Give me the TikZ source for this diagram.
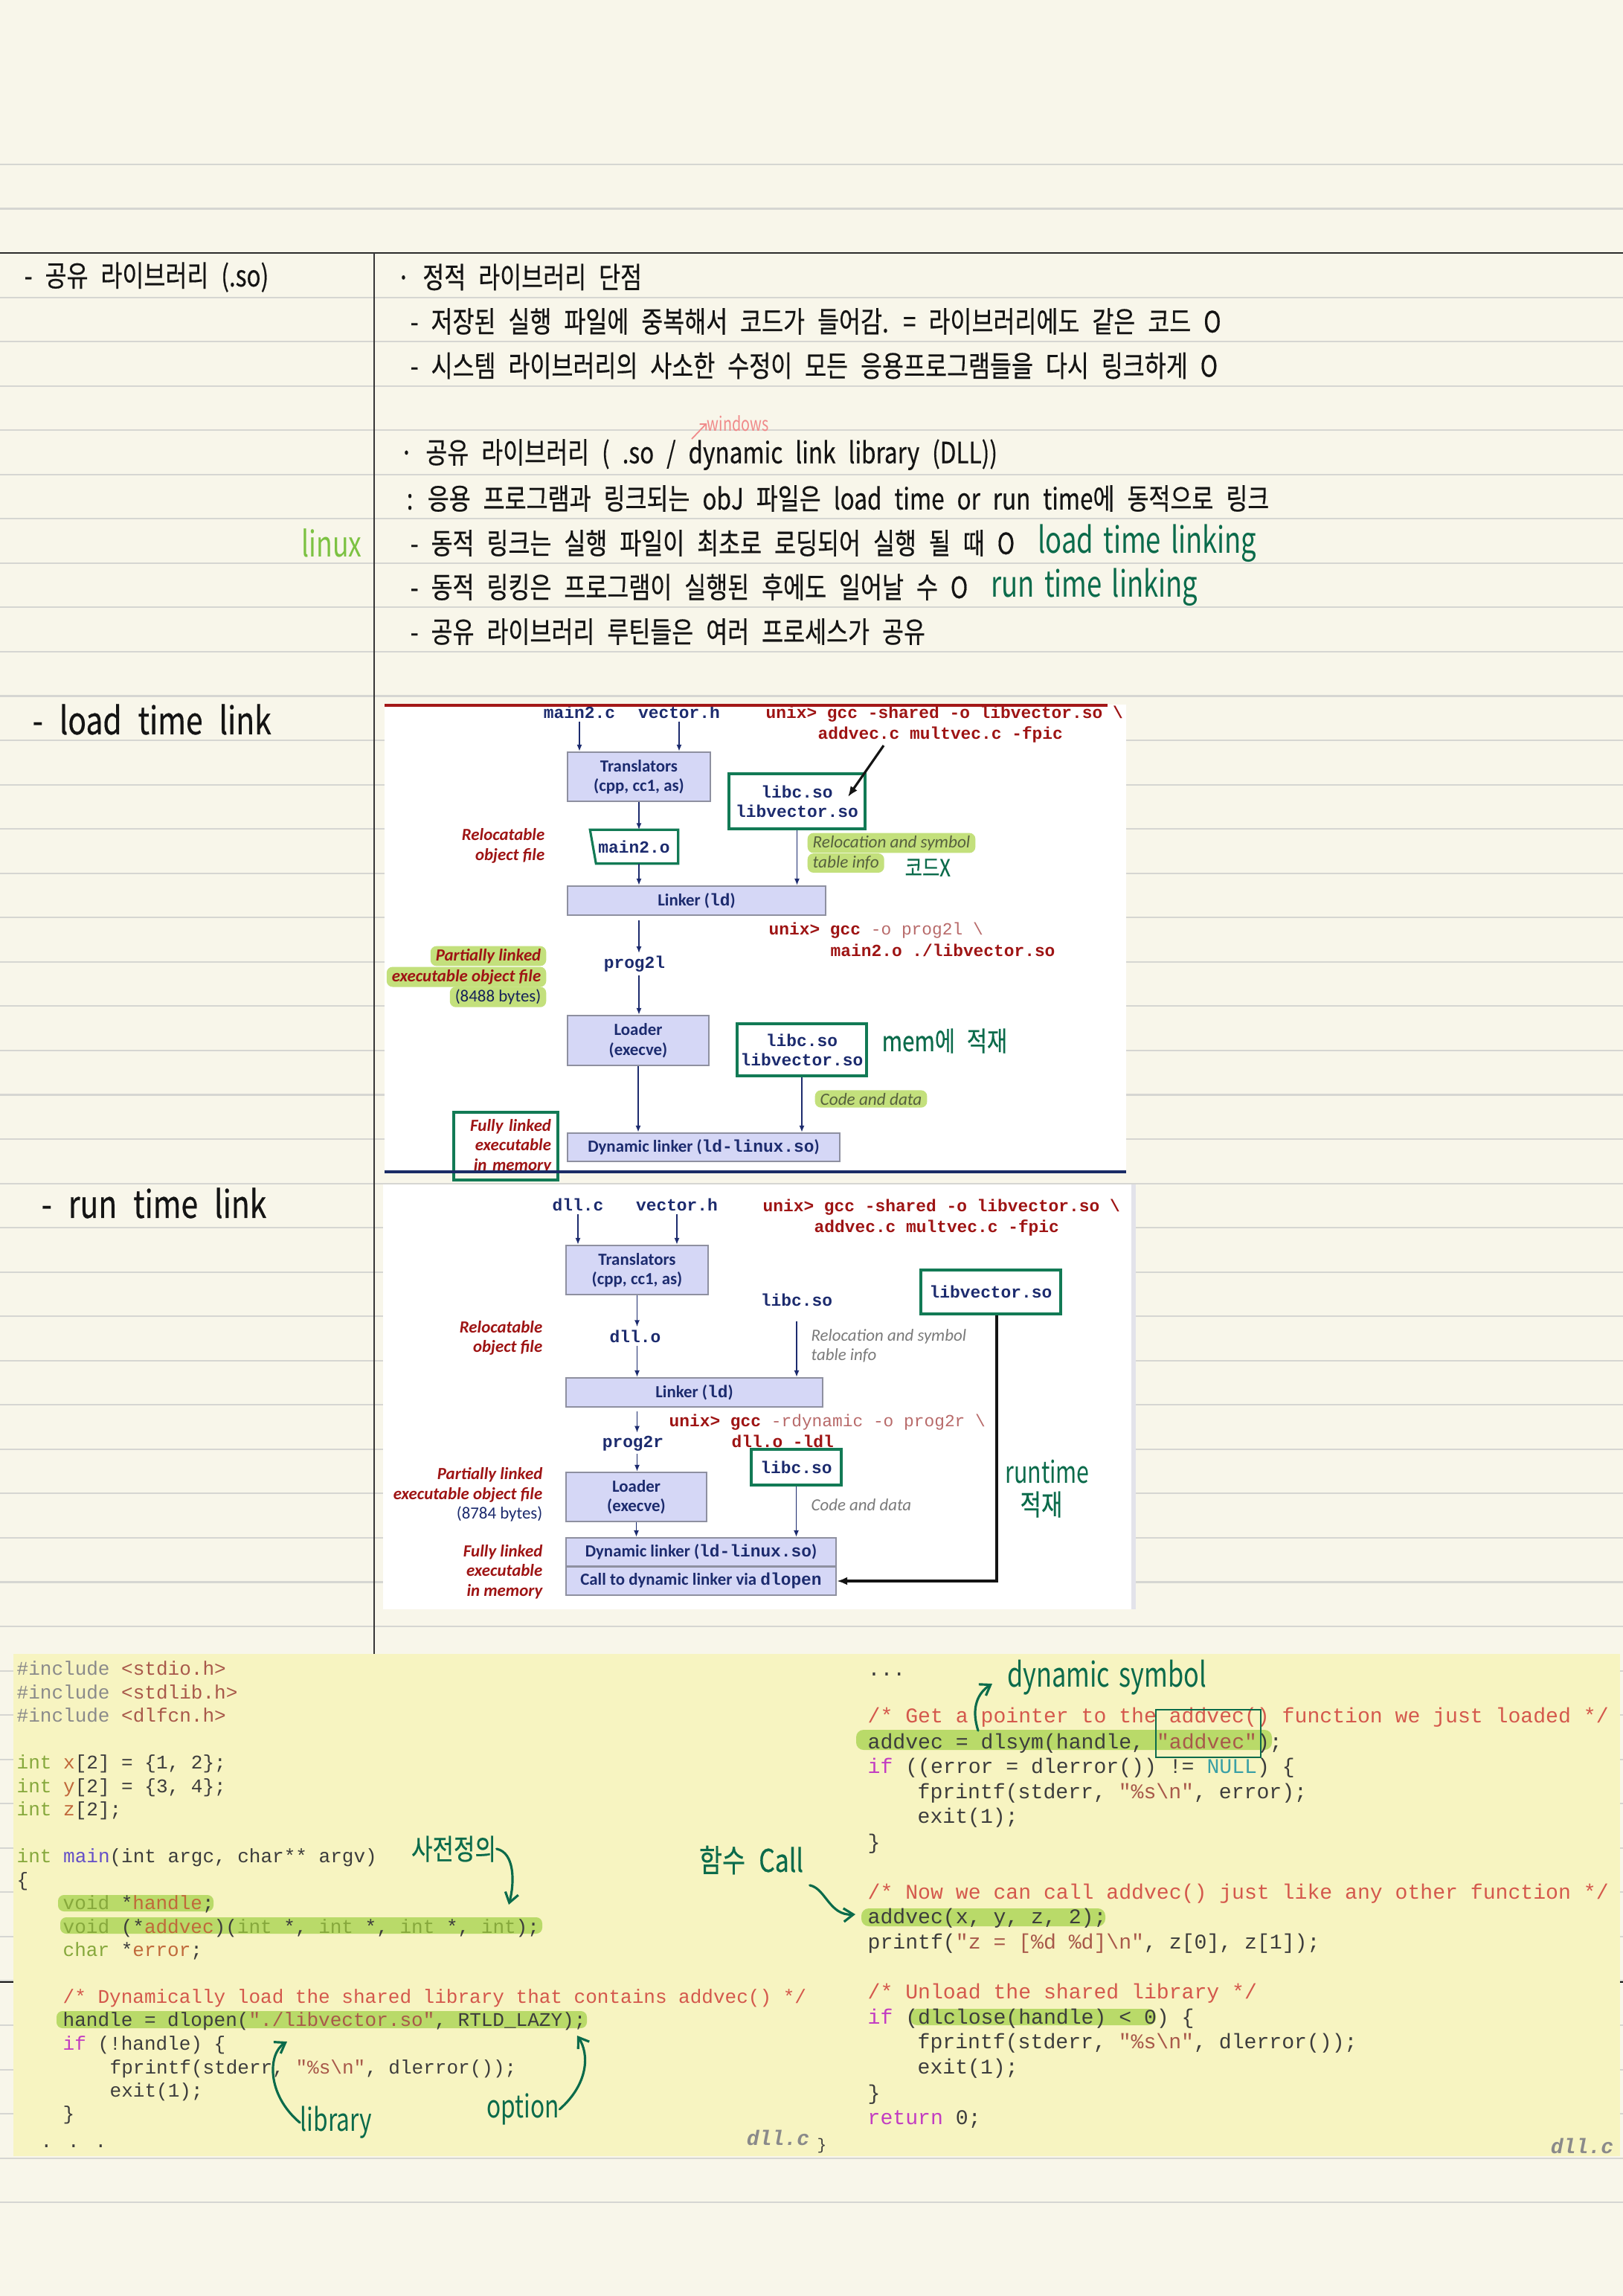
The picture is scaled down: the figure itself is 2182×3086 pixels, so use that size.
\documentclass[tikz,border=0pt]{standalone}
\usepackage{fontspec}
\usetikzlibrary{arrows.meta,positioning}
\setmonofont{Liberation Mono}
\newfontfamily\handfont[FakeStretch=0.8,WordSpace=2.4,FakeBold=0.4]{Noto Sans CJK KR}
\newfontfamily\handlat[FakeStretch=0.75,WordSpace=1.6]{Noto Sans CJK KR}
\newfontfamily\diagsf{Carlito}
\newfontfamily\diagtt{Liberation Mono}

\definecolor{paper}{HTML}{F8F6EA}
\definecolor{ruleC}{HTML}{D6D6D2}
\definecolor{inkC}{HTML}{141414}
\definecolor{penG}{HTML}{0B6B4B}
\definecolor{linuxG}{HTML}{7CC242}
\definecolor{pinkC}{HTML}{F08A8A}
\definecolor{navyC}{HTML}{1C2B6E}
\definecolor{boxFill}{HTML}{D5D7F6}
\definecolor{boxLine}{HTML}{8E90A0}
\definecolor{redC}{HTML}{9E1414}
\definecolor{redL}{HTML}{B86A6A}
\definecolor{gboxC}{HTML}{127A55}
\definecolor{hlG}{HTML}{C3E07C}
\definecolor{noteC}{HTML}{56603E}
\definecolor{grayT}{HTML}{7A7A7A}
\definecolor{shadowC}{HTML}{E3E3EA}
\definecolor{panelRed}{HTML}{A31818}
\definecolor{panelBlue}{HTML}{1A2C66}
\definecolor{codeBg}{HTML}{F7F4C1}
\definecolor{hlCode}{HTML}{B9DA69}
\definecolor{cTxt}{HTML}{3C3C3C}
\definecolor{cGray}{HTML}{8A8A8A}
\definecolor{cStr}{HTML}{A8584A}
\definecolor{cKw}{HTML}{86A83C}
\definecolor{cId}{HTML}{C0683A}
\definecolor{cFn}{HTML}{6550C8}
\definecolor{cCom}{HTML}{D4584C}
\definecolor{cIf}{HTML}{C23CC2}
\definecolor{cNull}{HTML}{3AA0A6}
\definecolor{fileC}{HTML}{8A8A8A}

\newcommand\dtt[1]{{\diagtt\bfseries #1}}

\tikzset{
  rulegray/.style={draw=ruleC, line width=0.6pt},
  handtext/.style={font=\handfont\fontsize{11.2}{13}\selectfont, text=inkC, anchor=west, inner sep=0pt},
  latintext/.style={font=\handlat\fontsize{13.5}{15}\selectfont, text=inkC, anchor=west, inner sep=0pt},
  headtext/.style={font=\handfont\fontsize{14.5}{16}\selectfont, text=inkC, anchor=west, inner sep=0pt},
  pentext/.style={font=\handfont\fontsize{11}{13}\selectfont, text=penG, inner sep=0pt},
  tool/.style={draw=boxLine, fill=boxFill, line width=0.6pt, inner sep=0pt, align=center, text=navyC, font=\diagsf\bfseries\fontsize{6.5}{7.5}\selectfont},
  libbox/.style={draw=gboxC, line width=0.9pt, fill=white, inner sep=0pt, align=center, text=navyC, font=\diagtt\bfseries\fontsize{6.5}{7.5}\selectfont},
  fullbox/.style={draw=gboxC, line width=0.9pt, minimum width=1.40cm, minimum height=0.91cm, text width=1.22cm, align=right, inner sep=0pt, text=redC, font=\diagsf\bfseries\itshape\fontsize{6.5}{7.6}\selectfont},
  srcname/.style={inner sep=1pt, text=navyC, font=\diagtt\bfseries\fontsize{6.5}{7.5}\selectfont},
  cmdred/.style={anchor=west, inner sep=0pt, text=redC, font=\diagtt\bfseries\fontsize{6.5}{7.5}\selectfont},
  tagred/.style={anchor=east, align=right, inner sep=0pt, text=redC, font=\diagsf\bfseries\itshape\fontsize{6.5}{7.6}\selectfont},
  hltag/.style={tagred, fill=hlG, rounded corners=0.08cm, inner xsep=2pt, inner ysep=1pt},
  hlnote/.style={anchor=west, fill=hlG, rounded corners=0.08cm, inner xsep=2pt, inner ysep=1pt, text=noteC, font=\diagsf\itshape\fontsize{6.6}{7.5}\selectfont},
  graynote/.style={anchor=west, inner sep=0pt, text=grayT, font=\diagsf\itshape\fontsize{6.5}{7.5}\selectfont},
  flow/.style={-{Latex[length=0.9mm,width=0.7mm]}, draw=navyC, line width=0.5pt},
  penarrow/.style={-{Straight Barb[length=1.3mm,width=1.8mm]}, draw=penG, line width=0.9pt, line cap=round},
  blkarrow/.style={-{Latex[length=1.4mm,width=1.1mm]}, draw=inkC, line width=0.9pt},
  codeL/.style={anchor=west, inner sep=0pt, text=cTxt, text height=1.6ex, text depth=0.4ex, font=\ttfamily\fontsize{7.4}{8.9}\selectfont},
  codeR/.style={codeL, font=\ttfamily\fontsize{8}{9.5}\selectfont},
  fname/.style={inner sep=0pt, text=fileC, font=\ttfamily\bfseries\itshape\fontsize{8}{9.5}\selectfont},
}

\begin{document}
\begin{tikzpicture}[x=0.01cm, y=-0.01cm]
  \useasboundingbox (0,0) rectangle (2182,3086);
  \fill[paper] (0,0) rectangle (2182,3086);

  % ruled paper
  \foreach \k in {-2,...,44}
    \draw[rulegray] (0,{340+59.55*\k}) -- (2182,{340+59.55*\k});
  \draw[inkC!90, line width=0.8pt] (0,340) -- (2182,340);
  \draw[inkC!85, line width=0.6pt] (503,340) -- (503,2223);

  % notes
  \node[handtext] (head) at (32,372.5) {- 공유 라이브러리 (.so)};
  \node[handtext] (static) at (533,372.5) {· 정적 라이브러리 단점};
  \node[handtext] (dup) at (551,432) {- 저장된 실행 파일에 중복해서 코드가 들어감. = 라이브러리에도 같은 코드 O};
  \node[handtext] (relink) at (551,491.6) {- 시스템 라이브러리의 사소한 수정이 모든 응용프로그램들을 다시 링크하게 O};
  \node[handtext, font=\handlat\fontsize{7.5}{9}\selectfont, text=pinkC] (win) at (950,569) {windows};
  \coordinate (winfoot) at (930,590);
  \draw[-{Straight Barb[length=0.6mm]}, draw=pinkC, line width=0.5pt] (winfoot) -- (win.west);
  \node[handtext] (shared) at (537,611) {· 공유 라이브러리 ( .so / dynamic link library (DLL))};
  \node[handtext] (linked) at (546,670) {: 응용 프로그램과 링크되는 obJ 파일은 load time or run time에 동적으로 링크};
  \node[latintext, text=linuxG] (linux) at (405,730) {linux};
  \node[handtext] (dyn1) at (551,730) {- 동적 링크는 실행 파일이 최초로 로딩되어 실행 될 때 O};
  \node[latintext, text=penG, font=\handlat\fontsize{13.8}{16}\selectfont, right=0.3cm of dyn1] (loadlk) {load time linking};
  \node[handtext] (dyn2) at (551,789) {- 동적 링킹은 프로그램이 실행된 후에도 일어날 수 O};
  \node[latintext, text=penG, font=\handlat\fontsize{13.8}{16}\selectfont, right=0.3cm of dyn2] (runlk) {run time linking};
  \node[handtext] (routine) at (551,849) {- 공유 라이브러리 루틴들은 여러 프로세스가 공유};
  \node[headtext] (loadhd) at (43,967) {- load time link};
  \node[headtext] (runhd) at (55,1617) {- run time link};

  % load time linking figure
  \fill[white] (517,947) rectangle (1514,1576);
  \node[srcname] (lsrc1) at (779,957) {main2.c};
  \node[srcname] (lsrc2) at (913,957) {vector.h};
  \node[tool, minimum width=1.92cm, minimum height=0.66cm] (ltrans) at (859,1044) {Translators\\(cpp, cc1, as)};
  \node[libbox, minimum width=1.83cm, minimum height=0.74cm] (llibs) at (1071.5,1077) {libc.so\\libvector.so};
  \node[srcname, minimum width=1.17cm, minimum height=0.44cm, inner sep=0pt] (lobj) at (852.5,1138) {main2.o};
  \draw[gboxC, line width=0.9pt] (lobj.north west) -- (lobj.north east) -- (lobj.south east) -- ([xshift=0.08cm]lobj.south west) -- cycle;
  \node[tool, minimum width=3.47cm, minimum height=0.39cm] (llink) at (936.5,1210.5) {Linker (\dtt{ld})};
  \node[tagred] (lreloc) at (733,1137) {Relocatable\\object file};
  \node[hlnote] (lrel1) at (1085,1133) {Relocation and symbol};
  \node[hlnote] (lrel2) at (1085,1160) {table info};
  \node[pentext, font=\handfont\fontsize{9}{11}\selectfont, anchor=west] (lnocode) at (1216,1166) {코드X};
  \node[cmdred] (lcmd1) at (1029,960) {unix> gcc -shared -o libvector.so \textbackslash};
  \node[cmdred] (lcmd2) at (1099,987) {addvec.c multvec.c -fpic};
  \coordinate (lcmdtail) at (1188,1002);
  \coordinate (lcmdtip) at (1140,1071);
  \draw[blkarrow] (lcmdtail) -- (lcmdtip);
  \node[cmdred] (lcmd3) at (1033,1251) {unix> gcc {\mdseries\color{redL}-o prog2l \textbackslash}};
  \node[cmdred] (lcmd4) at (1116,1277) {main2.o ./libvector.so};
  \node[srcname] (lprog) at (853,1296) {prog2l};
  \node[hltag] (lpart1) at (735,1285) {Partially linked};
  \node[hltag] (lpart2) at (735,1313) {executable object file};
  \node[hltag, text=navyC!80!black, font=\diagsf\fontsize{6.5}{7.6}\selectfont] (lpart3) at (735,1340) {(8488 bytes)};
  \node[tool, minimum width=1.90cm, minimum height=0.67cm] (lload) at (858,1398.5) {Loader\\(execve)};
  \node[libbox, minimum width=1.74cm, minimum height=0.70cm] (llibs2) at (1078,1411) {libc.so\\libvector.so};
  \node[pentext, font=\handfont\fontsize{10.5}{12}\selectfont, anchor=west] (lmem) at (1185,1399) {mem에 적재};
  \node[hlnote] (lcode) at (1095,1477) {Code and data};
  \node[tool, minimum width=3.66cm, minimum height=0.38cm] (ldyn) at (946,1542) {Dynamic linker (\dtt{ld-linux.so})};
  \node[fullbox] (lfull) at (680,1540.5) {Fully linked\\executable\\in memory};
  \draw[flow] (lsrc1.south) -- (lsrc1.south |- ltrans.north);
  \draw[flow] (lsrc2.south) -- (lsrc2.south |- ltrans.north);
  \draw[flow] (ltrans.south) -- (ltrans.south |- lobj.north);
  \draw[flow] (ltrans.south |- lobj.south) -- (ltrans.south |- llink.north);
  \draw[flow] (llibs.south) -- (llibs.south |- llink.north);
  \draw[flow] (ltrans.south |- llink.south) ++(0,6) -- (ltrans.south |- lprog.north);
  \draw[flow] (ltrans.south |- lprog.south) -- (ltrans.south |- lload.north);
  \draw[flow] (llibs2.south) -- (llibs2.south |- ldyn.north);
  \draw[flow] (lload.south) -- (lload.south |- ldyn.north);
  \draw[panelRed, line width=1.1pt] (517,948) -- (1489,948);
  \draw[panelBlue, line width=1pt] (517,1575) -- (1514,1575);

  % run time linking figure
  \fill[white] (515,1592) rectangle (1521,2163);
  \fill[shadowC] (1521,1592) rectangle (1527,2163);
  \node[srcname] (rsrc1) at (777,1619) {dll.c};
  \node[srcname] (rsrc2) at (910,1619) {vector.h};
  \node[tool, minimum width=1.91cm, minimum height=0.66cm] (rtrans) at (856.5,1707) {Translators\\(cpp, cc1, as)};
  \node[cmdred] (rcmd1) at (1025,1623) {unix> gcc -shared -o libvector.so \textbackslash};
  \node[cmdred] (rcmd2) at (1094,1650) {addvec.c multvec.c -fpic};
  \node[srcname] (rlibc) at (1071,1747) {libc.so};
  \node[libbox, minimum width=1.88cm, minimum height=0.59cm] (rlibv) at (1332,1736.5) {libvector.so};
  \node[srcname] (robj) at (854,1796) {dll.o};
  \node[graynote] (rrel1) at (1090,1796) {Relocation and symbol};
  \node[graynote] (rrel2) at (1090,1822) {table info};
  \node[tagred] (rreloc) at (730,1798.5) {Relocatable\\object file};
  \node[tool, minimum width=3.45cm, minimum height=0.39cm] (rlink) at (933.5,1871.5) {Linker (\dtt{ld})};
  \node[cmdred] (rcmd3) at (899,1912) {unix> gcc {\mdseries\color{redL}-rdynamic -o prog2r \textbackslash}};
  \node[cmdred] (rcmd4) at (983,1937) {dll.o -ldl};
  \node[srcname] (rprog) at (851,1940) {prog2r};
  \node[libbox, minimum width=1.21cm, minimum height=0.48cm] (rlibc2) at (1070.5,1972) {libc.so};
  \node[graynote] (rcode) at (1090,2023) {Code and data};
  \node[tagred] (rpart) at (730,2009) {Partially linked\\executable object file\\{\mdseries\upshape\color{navyC}(8784 bytes)}};
  \node[tool, minimum width=1.89cm, minimum height=0.66cm] (rload) at (855.5,2012) {Loader\\(execve)};
  \node[tool, minimum width=3.63cm, minimum height=0.38cm] (rdyn) at (942.5,2086) {Dynamic linker (\dtt{ld-linux.so})};
  \node[tool, minimum width=3.63cm, minimum height=0.38cm] (rcall) at (942.5,2125) {Call to dynamic linker via \dtt{dlopen}};
  \node[tagred] (rfull) at (730,2112.5) {Fully linked\\executable\\in memory};
  \node[pentext, font=\handlat\fontsize{11.5}{13}\selectfont] (rrun1) at (1408,1978) {runtime};
  \node[pentext] (rrun2) at (1400,2022) {적재};
  \draw[flow] (rsrc1.south) -- (rsrc1.south |- rtrans.north);
  \draw[flow] (rsrc2.south) -- (rsrc2.south |- rtrans.north);
  \draw[flow] (rtrans.south) -- (rtrans.south |- robj.north);
  \draw[flow] (rtrans.south |- robj.south) -- (rtrans.south |- rlink.north);
  \draw[flow, shorten <=0.16cm] (rlibc.south) -- (rlibc.south |- rlink.north);
  \draw[flow] (rtrans.south |- rlink.south) ++(0,5) -- (rtrans.south |- rprog.north);
  \draw[flow] (rtrans.south |- rprog.south) -- (rtrans.south |- rload.north);
  \draw[flow] (rlibc2.south) -- (rlibc2.south |- rdyn.north);
  \draw[flow] (rload.south) -- (rload.south |- rdyn.north);
  \draw[blkarrow] ([xshift=0.08cm]rlibv.south) |- (rcall.east);

  % dll.c listing
  \fill[codeBg] (18,2223) rectangle (2178,2898);
  \draw[inkC, line width=0.8pt] (0,2664) -- (18,2664);
  \draw[inkC, line width=0.8pt] (2178,2664) -- (2182,2664);
  \fill[hlCode, rounded corners=0.08cm] (78,2547) rectangle (287,2569);
  \fill[hlCode, rounded corners=0.08cm] (81,2577) rectangle (729,2599);
  \fill[hlCode, rounded corners=0.08cm] (76,2703) rectangle (789,2726);
  \fill[hlCode, rounded corners=0.1cm] (1151,2325) rectangle (1710,2352);
  \fill[hlCode, rounded corners=0.1cm] (1158,2565) rectangle (1486,2589);
  \fill[hlCode, rounded corners=0.1cm] (1223,2700) rectangle (1554,2722);

  \node[codeL] (cl1) at (22,2242) {{\color{cGray}\#include} {\color{cStr}<stdio.h>}};
  \node[codeL] (cl2) at (22,2274) {{\color{cGray}\#include} {\color{cStr}<stdlib.h>}};
  \node[codeL] (cl3) at (22,2305) {{\color{cGray}\#include} {\color{cStr}<dlfcn.h>}};
  \node[codeL] (cl4) at (22,2368) {{\color{cKw}int} {\color{cId}x}[2] = \{1, 2\};};
  \node[codeL] (cl5) at (22,2400) {{\color{cKw}int} {\color{cId}y}[2] = \{3, 4\};};
  \node[codeL] (cl6) at (22,2431) {{\color{cKw}int} {\color{cId}z}[2];};
  \node[codeL] (cl7) at (22,2494) {{\color{cKw}int} {\color{cFn}main}(int argc, char** argv)};
  \node[codeL] (cl8) at (22,2526) {\{};
  \node[codeL] (cl9) at (84,2557) {{\color{cKw}void} *{\color{cId}handle};};
  \node[codeL] (cl10) at (84,2589) {{\color{cKw}void} (*{\color{cId}addvec})({\color{cKw}int} *, {\color{cKw}int} *, {\color{cKw}int} *, {\color{cKw}int});};
  \node[codeL] (cl11) at (84,2620) {{\color{cKw}char} *{\color{cId}error};};
  \node[codeL, text=cCom] (cl12) at (84,2683) {/* Dynamically load the shared library that contains addvec() */};
  \node[codeL] (cl13) at (84,2714) {handle = dlopen({\color{cStr}"./libvector.so"}, RTLD\_LAZY);};
  \node[codeL] (cl14) at (84,2746) {{\color{cIf}if} (!handle) \{};
  \node[codeL] (cl15) at (147,2778) {fprintf(stderr, {\color{cStr}"\%s\textbackslash n"}, dlerror());};
  \node[codeL] (cl16) at (147,2809) {exit(1);};
  \node[codeL] (cl17) at (84,2840) {\}};
  \node[codeL] (cl18) at (54,2877) {. . .};
  \node[fname] (lfile) at (1046,2873) {dll.c};
  \node[codeL, font=\ttfamily\fontsize{6}{7}\selectfont] (lbrace) at (1098,2880) {\}};

  \node[codeR] (cr1) at (1166,2243) {...};
  \node[codeR, text=cCom] (cr2) at (1166,2306) {/* Get a pointer to the addvec() function we just loaded */};
  \node[codeR] (cr3) at (1166,2341) {addvec = dlsym(handle, {\color{cStr}"addvec"});};
  \node[codeR] (cr4) at (1166,2374) {{\color{cIf}if} ((error = dlerror()) != {\color{cNull}NULL}) \{};
  \node[codeR] (cr5) at (1233,2408) {fprintf(stderr, {\color{cStr}"\%s\textbackslash n"}, error);};
  \node[codeR] (cr6) at (1233,2441) {exit(1);};
  \node[codeR] (cr7) at (1166,2476) {\}};
  \node[codeR, text=cCom] (cr8) at (1166,2543) {/* Now we can call addvec() just like any other function */};
  \node[codeR] (cr9) at (1166,2576) {addvec(x, y, z, 2);};
  \node[codeR] (cr10) at (1166,2610) {printf({\color{cStr}"z = [\%d \%d]\textbackslash n"}, z[0], z[1]);};
  \node[codeR, text=cCom] (cr11) at (1166,2677) {/* Unload the shared library */};
  \node[codeR] (cr12) at (1166,2711) {{\color{cIf}if} (dlclose(handle) < 0) \{};
  \node[codeR] (cr13) at (1233,2744) {fprintf(stderr, {\color{cStr}"\%s\textbackslash n"}, dlerror());};
  \node[codeR] (cr14) at (1233,2778) {exit(1);};
  \node[codeR] (cr15) at (1166,2813) {\}};
  \node[codeR] (cr16) at (1166,2846) {{\color{cIf}return} 0;};
  \node[fname] (rfile) at (2127,2884) {dll.c};

  % pen notes on the listing
  \node[draw=penG, line width=0.8pt, minimum width=1.41cm, minimum height=0.64cm, inner sep=0pt] (symbox) at (1624.5,2330) {};
  \node[pentext, font=\handlat\fontsize{13}{15}\selectfont] (anndyn) at (1488,2255) {dynamic symbol};
  \coordinate (dyntail) at (1315,2326);
  \coordinate (dyntip) at (1334,2263);
  \draw[penarrow] (dyntail) .. controls (1305,2295) and (1315,2275) .. (dyntip);
  \node[pentext] (anndef) at (610,2485) {사전정의};
  \coordinate (deftip) at (684,2560);
  \draw[penarrow] (anndef.east) .. controls (692,2490) and (692,2530) .. (deftip);
  \node[pentext, font=\handfont\fontsize{12}{14}\selectfont] (anncall) at (1010,2500) {함수 Call};
  \coordinate (calltip) at (1150,2573);
  \draw[penarrow] (anncall.south east) ++(8,14) .. controls (1110,2538) and (1115,2575) .. (calltip);
  \node[pentext, font=\handlat\fontsize{12}{14}\selectfont] (annlib) at (452,2853) {library};
  \coordinate (libtip) at (386,2744);
  \draw[penarrow] (annlib.west) .. controls (358,2815) and (360,2760) .. (libtip);
  \node[pentext, font=\handlat\fontsize{12}{14}\selectfont] (annopt) at (703,2835) {option};
  \coordinate (opttip) at (776,2736);
  \draw[penarrow] (annopt.east) .. controls (792,2800) and (792,2760) .. (opttip);
\end{tikzpicture}
\end{document}
